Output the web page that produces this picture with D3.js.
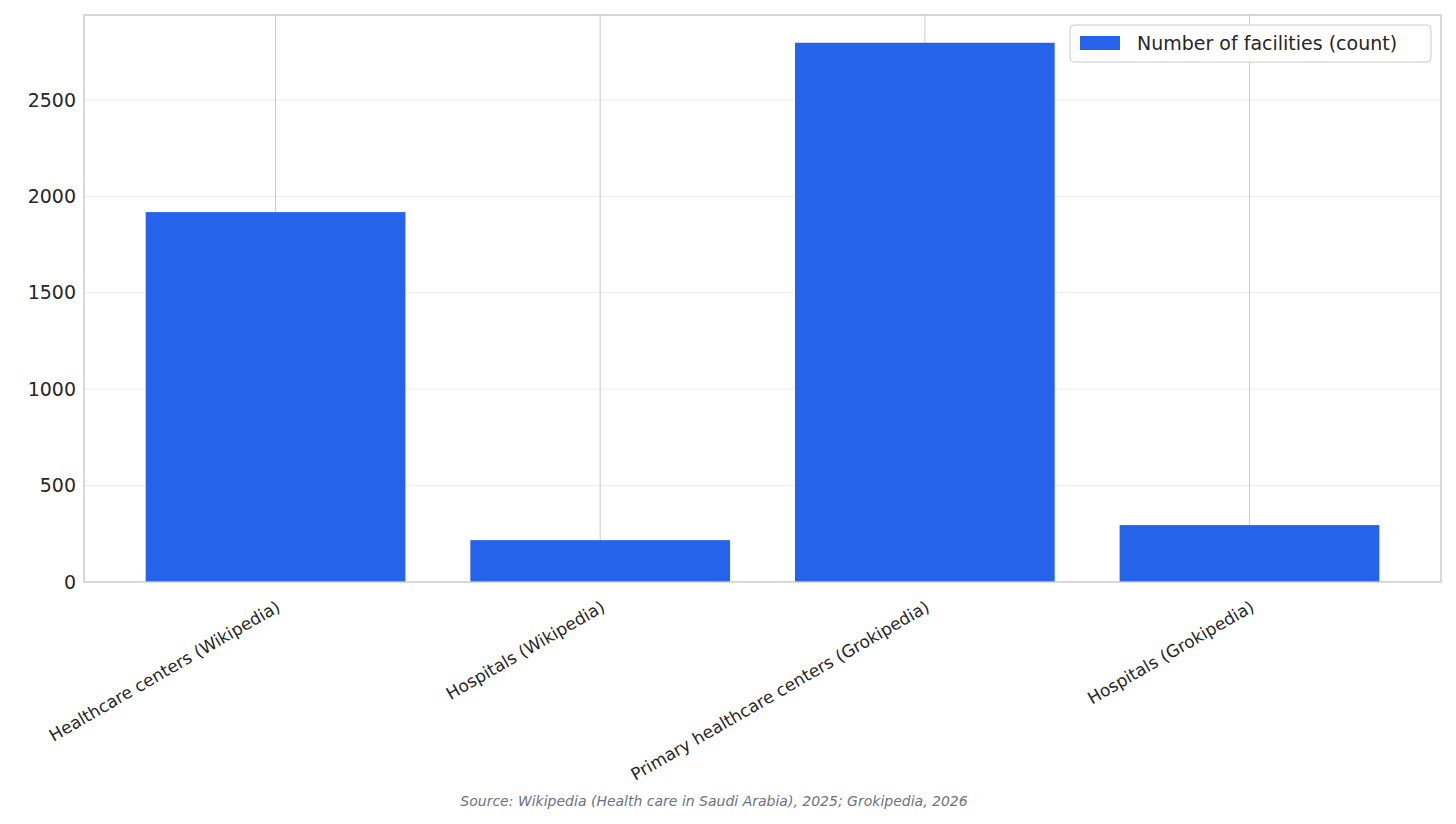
<!DOCTYPE html>
<html><head><meta charset="utf-8">
<script src="https://cdn.jsdelivr.net/npm/d3@7"></script>
<style>body{margin:0;background:#fff;font-family:"DejaVu Sans",sans-serif}</style>
</head><body><svg id="c" width="1456" height="824"></svg>
<script>
const categories=["Healthcare centers (Wikipedia)","Hospitals (Wikipedia)","Primary healthcare centers (Grokipedia)","Hospitals (Grokipedia)"];
const values=[1918,217,2796,295];
const yTicks=[0,500,1000,1500,2000,2500];
const seriesName="Number of facilities (count)";
const source="Source: Wikipedia (Health care in Saudi Arabia), 2025; Grokipedia, 2026";

const svg=d3.select("#c");
const L=84,R=1441,T=15,B=582;
const x=d3.scaleLinear().domain([-0.59,3.59]).range([L,R]);
const y=d3.scaleLinear().domain([0,2940]).range([B,T]);
// grids
svg.append("g").selectAll("line").data(yTicks.slice(1)).join("line")
 .attr("x1",L).attr("x2",R).attr("y1",d=>y(d)).attr("y2",d=>y(d)).attr("stroke","#ebebeb");
svg.append("g").selectAll("line").data(categories).join("line")
 .attr("x1",(d,i)=>x(i)).attr("x2",(d,i)=>x(i)).attr("y1",T).attr("y2",B).attr("stroke","#cccccc");
// bars
svg.append("g").selectAll("rect").data(values).join("rect")
 .attr("x",(d,i)=>x(i-0.4)).attr("width",(d,i)=>x(i+0.4)-x(i-0.4))
 .attr("y",d=>y(d)).attr("height",d=>B-y(d)).attr("fill","#2563eb");
// frame
svg.append("rect").attr("x",L).attr("y",T).attr("width",R-L).attr("height",B-T)
 .attr("fill","none").attr("stroke","#cccccc").attr("stroke-width",1.5);
// y ticks
svg.append("g").selectAll("text").data(yTicks).join("text")
 .attr("x",L-8).attr("y",d=>y(d)).attr("dy","0.35em").attr("text-anchor","end")
 .attr("font-size",19).attr("fill","#262626").text(d=>d);
// x labels
svg.append("g").selectAll("text").data(categories).join("text")
 .attr("transform",(d,i)=>`translate(${x(i)},${B+18}) rotate(-30)`)
 .attr("text-anchor","end").attr("dy","0.7em").attr("font-size",17).attr("fill","#262626").text(d=>d);
// legend
const lg=svg.append("g");
lg.append("rect").attr("x",1070).attr("y",25).attr("width",361).attr("height",37).attr("rx",4)
 .attr("fill","#fff").attr("fill-opacity",0.9).attr("stroke","#cccccc");
lg.append("rect").attr("x",1080).attr("y",36).attr("width",40).attr("height",14).attr("fill","#2563eb");
lg.append("text").attr("x",1137).attr("y",43).attr("dy","0.35em").attr("font-size",19).attr("fill","#262626").text(seriesName);
// source
svg.append("text").attr("x",714).attr("y",806).attr("text-anchor","middle").attr("font-size",14)
 .attr("font-style","italic").attr("fill","#6b7280").text(source);
</script></body></html>
